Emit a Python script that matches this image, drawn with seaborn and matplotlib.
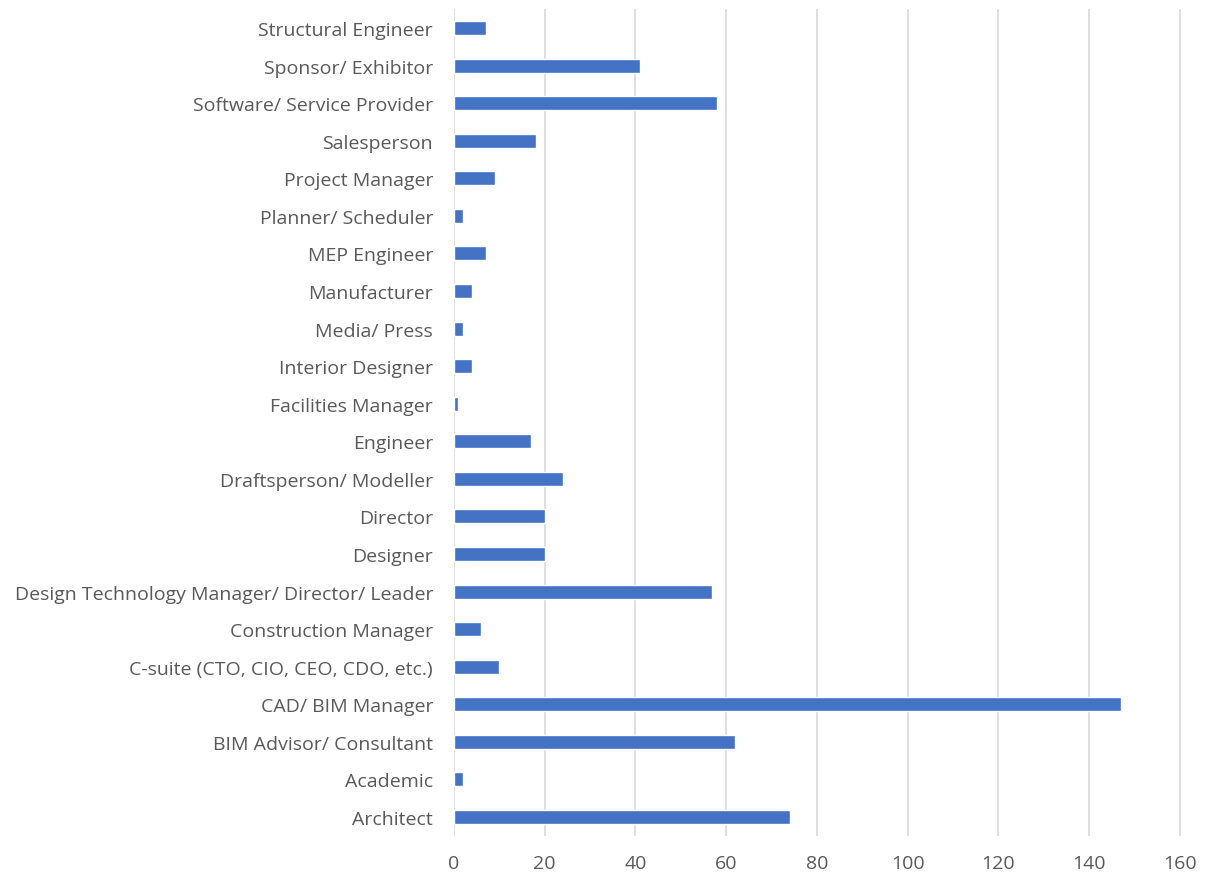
import pandas as pd
import seaborn as sns
import matplotlib.pyplot as plt

# Job roles, listed from the top of the chart down
roles = [
    "Structural Engineer",
    "Sponsor/ Exhibitor",
    "Software/ Service Provider",
    "Salesperson",
    "Project Manager",
    "Planner/ Scheduler",
    "MEP Engineer",
    "Manufacturer",
    "Media/ Press",
    "Interior Designer",
    "Facilities Manager",
    "Engineer",
    "Draftsperson/ Modeller",
    "Director",
    "Designer",
    "Design Technology Manager/ Director/ Leader",
    "Construction Manager",
    "C-suite (CTO, CIO, CEO, CDO, etc.)",
    "CAD/ BIM Manager",
    "BIM Advisor/ Consultant",
    "Academic",
    "Architect",
]
counts = [7, 41, 58, 18, 9, 2, 7, 4, 2, 4, 1, 17, 24, 20, 20, 57, 6, 10, 147, 62, 2, 74]
x_ticks = [0, 20, 40, 60, 80, 100, 120, 140, 160]

df = pd.DataFrame({"role": roles, "count": counts})

sns.set_style("white")
plt.rcParams["font.family"] = ["Open Sans", "DejaVu Sans"]

fig = plt.figure(figsize=(12.07, 8.79), dpi=100)
ax = fig.add_axes([0.3761, 0.048, 0.6024, 0.9404])

sns.barplot(data=df, x="count", y="role", order=roles, color="#4472c4",
            saturation=1, width=0.37, ax=ax)

ax.set_xlim(0, 160.3)
ax.set_xticks(x_ticks)
ax.set_ylim(len(roles) - 0.5, -0.5)
ax.xaxis.grid(True, color="#d9d9d9", linewidth=1.2)
ax.set_axisbelow(True)
for s in ax.spines.values():
    s.set_visible(False)
ax.set_xlabel("")
ax.set_ylabel("")
ax.tick_params(axis="x", length=0, pad=13, labelsize=14, labelcolor="#595959")
ax.tick_params(axis="y", length=0, pad=15, labelsize=14, labelcolor="#595959")

fig.savefig("out.png", dpi=100)
